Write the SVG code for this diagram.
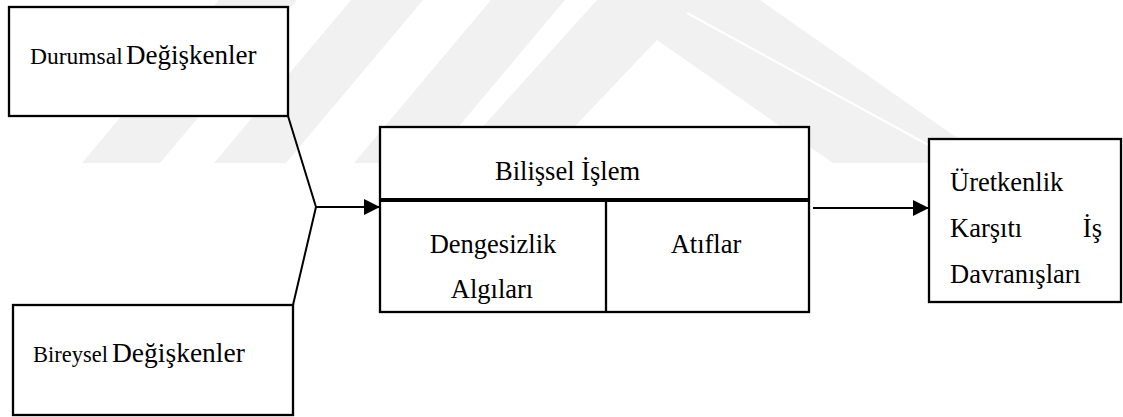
<svg xmlns="http://www.w3.org/2000/svg" width="1123" height="417" viewBox="0 0 1123 417">
<style>
.box{fill:#fff;stroke:#000;stroke-width:2.3}
.ln{fill:none;stroke:#000;stroke-width:2}
text{font-family:'Liberation Serif','Times New Roman','DejaVu Serif',serif;font-size:26.5px;fill:#000}
.wm{fill:#f1f1f1}
</style>
<defs>
<marker id="ah" viewBox="0 0 16 16" refX="16" refY="8" markerWidth="16" markerHeight="16" markerUnits="userSpaceOnUse" orient="auto">
<path d="M0,0 L16,8 L0,16 Z" fill="#000"/>
</marker>
</defs>
<rect width="1123" height="417" fill="#fff"/>
<g id="watermark">
<polygon class="wm" points="82,163 160,163 297,0 219,0"/>
<polygon class="wm" points="214,163 286,163 423,0 351,0"/>
<polygon class="wm" points="354,163 428,163 565,0 491,0"/>
<polygon class="wm" points="597,0 760,0 993,163 833,163 657,40 540,163 450,163"/>
<line x1="687" y1="13" x2="943" y2="153" stroke="#fff" stroke-width="2"/>
</g>
<g id="connectors">
<polyline class="ln" points="288,116 316,207 293,305"/>
<line class="ln" x1="316" y1="207" x2="380" y2="207" marker-end="url(#ah)"/>
<line class="ln" x1="813" y1="208" x2="929" y2="208" marker-end="url(#ah)"/>
</g>
<g id="durumsal">
<rect class="box" x="9" y="7" width="279" height="109"/>
<text x="30" y="64" font-family="Liberation Serif, serif"><tspan font-size="23.5">Durumsal</tspan><tspan x="126" font-size="27">Değişkenler</tspan></text>
</g>
<g id="bireysel">
<rect class="box" x="13" y="305" width="280" height="110"/>
<text x="33" y="362" font-family="Liberation Serif, serif"><tspan font-size="22.5">Bireysel</tspan><tspan x="112" font-size="27.5">Değişkenler</tspan></text>
</g>
<g id="bilissel">
<rect class="box" x="380" y="127" width="429" height="185"/>
<line x1="380" y1="200" x2="809" y2="200" stroke="#000" stroke-width="4"/>
<line x1="606" y1="200" x2="606" y2="312" stroke="#000" stroke-width="2.3"/>
<text x="495" y="180" font-family="Liberation Serif, serif">Bilişsel İşlem</text>
<text x="493" y="253" text-anchor="middle" font-family="Liberation Serif, serif">Dengesizlik</text>
<text x="492" y="298" text-anchor="middle" font-family="Liberation Serif, serif">Algıları</text>
<text x="706" y="253" text-anchor="middle" font-family="Liberation Serif, serif">Atıflar</text>
</g>
<g id="uretkenlik">
<rect class="box" x="929" y="139" width="192" height="163"/>
<text x="950" y="191" font-family="Liberation Serif, serif">Üretkenlik</text>
<text x="950" y="237" font-family="Liberation Serif, serif">Karşıtı</text>
<text x="1102" y="237" text-anchor="end" font-family="Liberation Serif, serif">İş</text>
<text x="950" y="283" font-family="Liberation Serif, serif">Davranışları</text>
</g>
</svg>
